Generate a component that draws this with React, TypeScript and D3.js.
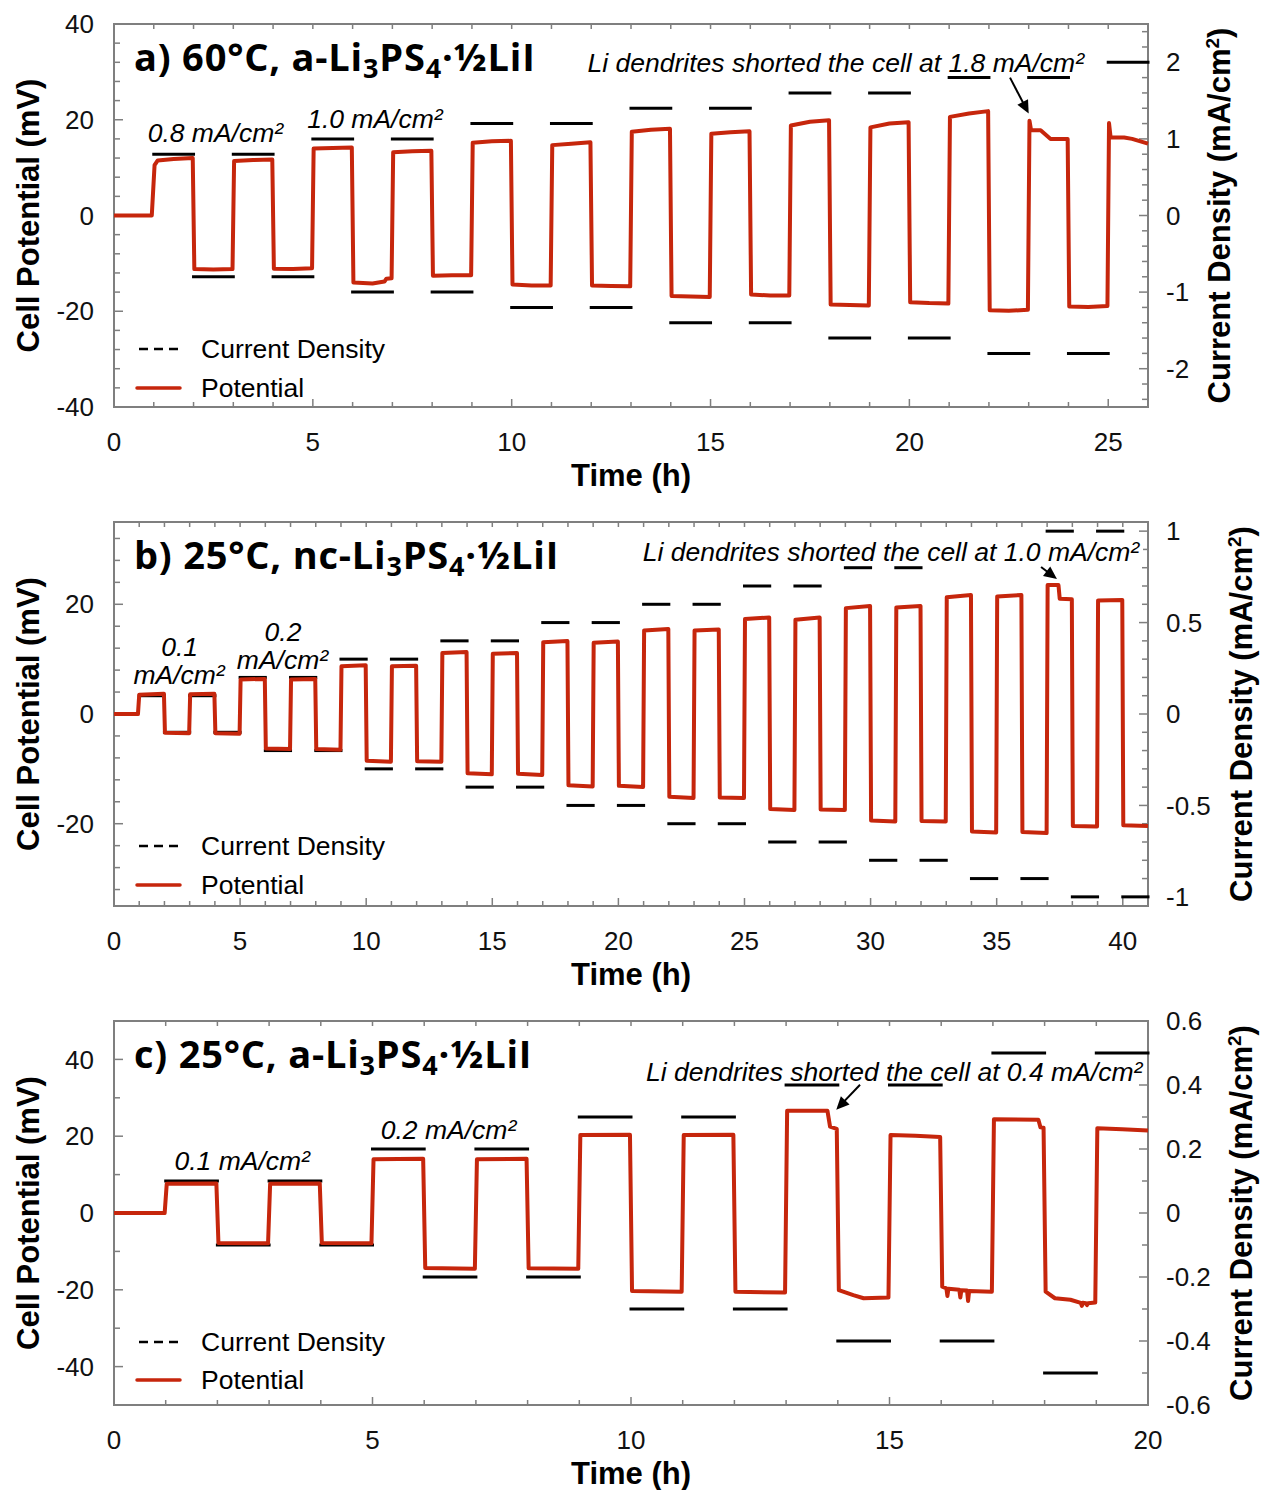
import React from "react";
import * as d3 from "d3";

// ---- data ----
// current density per 1 h step (index = start hour), null = no current
const curA = [null, 0.8, -0.8, 0.8, -0.8, 1.0, -1.0, 1.0, -1.0, 1.2, -1.2, 1.2, -1.2, 1.4, -1.4, 1.4, -1.4, 1.6, -1.6, 1.6, -1.6, 1.8, -1.8, 1.8, -1.8, 2.0];
const curB = [null, 0.1, -0.1, 0.1, -0.1, 0.2, -0.2, 0.2, -0.2, 0.3, -0.3, 0.3, -0.3, 0.4, -0.4, 0.4, -0.4, 0.5, -0.5, 0.5, -0.5, 0.6, -0.6, 0.6, -0.6, 0.7, -0.7, 0.7, -0.7, 0.8, -0.8, 0.8, -0.8, 0.9, -0.9, 0.9, -0.9, 1.0, -1.0, 1.0, -1.0];
const curC = [null, 0.1, -0.1, 0.1, -0.1, 0.2, -0.2, 0.2, -0.2, 0.3, -0.3, 0.3, -0.3, 0.4, -0.4, 0.4, -0.4, 0.5, -0.5, 0.5];

// cell potential [time h, mV]
const potA: [number, number][] = [
  [0, 0], [0.95, 0], [1.02, 10.5], [1.1, 11.5], [1.5, 11.8], [1.98, 12.0],
  [2.02, -11.2], [2.5, -11.3], [2.98, -11.2], [3.02, 11.4], [3.5, 11.6], [3.98, 11.7],
  [4.02, -11.1], [4.5, -11.2], [4.98, -11.0], [5.02, 14.0], [5.5, 14.1], [5.98, 14.2],
  [6.02, -14.0], [6.5, -14.2], [6.8, -13.8], [6.85, -13.2], [6.98, -13.1],
  [7.02, 13.2], [7.5, 13.4], [7.98, 13.5], [8.02, -12.6], [8.5, -12.5], [8.98, -12.5],
  [9.02, 15.2], [9.5, 15.5], [9.98, 15.6], [10.02, -14.4], [10.5, -14.6], [10.98, -14.6],
  [11.02, 14.7], [11.5, 15.0], [11.98, 15.3], [12.02, -14.6], [12.5, -14.7], [12.98, -14.8],
  [13.02, 17.5], [13.5, 17.9], [13.98, 18.1], [14.02, -16.8], [14.5, -16.9], [14.98, -17.0],
  [15.02, 17.1], [15.5, 17.4], [15.98, 17.6], [16.02, -16.5], [16.5, -16.7], [16.98, -16.7],
  [17.02, 18.8], [17.5, 19.6], [17.98, 19.9], [18.02, -18.6], [18.5, -18.7], [18.98, -18.8],
  [19.02, 18.4], [19.5, 19.2], [19.98, 19.5], [20.02, -18.1], [20.5, -18.3], [20.98, -18.4],
  [21.02, 20.6], [21.5, 21.3], [21.98, 21.8], [22.02, -19.8], [22.5, -19.9], [22.98, -19.7],
  [23.02, 19.8], [23.06, 17.8], [23.3, 17.8], [23.55, 16.0], [23.98, 16.0],
  [24.02, -19.0], [24.5, -19.1], [24.98, -18.9],
  [25.02, 19.3], [25.06, 16.3], [25.4, 16.3], [25.6, 16.0], [26, 15.0],
];
const potB: [number, number][] = [
  [0, 0], [0.95, 0], [1.0, 3.5], [1.98, 3.7], [2.02, -3.4], [2.98, -3.5], [3.02, 3.6], [3.98, 3.7], [4.02, -3.5], [4.98, -3.6],
  [5.02, 6.3], [5.98, 6.4], [6.02, -6.3], [6.98, -6.4], [7.02, 6.3], [7.98, 6.4], [8.02, -6.4], [8.98, -6.5],
  [9.02, 8.7], [9.98, 8.9], [10.02, -8.5], [10.98, -8.7], [11.02, 8.7], [11.98, 8.8], [12.02, -8.6], [12.98, -8.7],
  [13.02, 11.1], [13.98, 11.3], [14.02, -10.8], [14.98, -11.0], [15.02, 11.0], [15.98, 11.1], [16.02, -10.9], [16.98, -11.1],
  [17.02, 13.1], [17.98, 13.3], [18.02, -13.0], [18.98, -13.2], [19.02, 13.0], [19.98, 13.2], [20.02, -13.1], [20.98, -13.3],
  [21.02, 15.2], [21.98, 15.5], [22.02, -15.1], [22.98, -15.3], [23.02, 15.2], [23.98, 15.4], [24.02, -15.2], [24.98, -15.3],
  [25.02, 17.3], [25.98, 17.6], [26.02, -17.3], [26.98, -17.5], [27.02, 17.2], [27.98, 17.6], [28.02, -17.4], [28.98, -17.5],
  [29.02, 19.3], [29.98, 19.7], [30.02, -19.4], [30.98, -19.6], [31.02, 19.4], [31.98, 19.7], [32.02, -19.5], [32.98, -19.6],
  [33.02, 21.3], [33.98, 21.7], [34.02, -21.4], [34.98, -21.6], [35.02, 21.4], [35.98, 21.7], [36.02, -21.5], [36.98, -21.7],
  [37.02, 23.5], [37.45, 23.5], [37.5, 21.0], [37.98, 20.9], [38.02, -20.4], [38.98, -20.5],
  [39.02, 20.7], [39.98, 20.8], [40.02, -20.3], [41, -20.4],
];
const potC: [number, number][] = [
  [0, 0], [0.98, 0], [1.02, 7.6], [1.98, 7.7], [2.02, -7.8], [2.98, -7.9], [3.02, 7.6], [3.98, 7.7], [4.02, -7.8], [4.98, -7.9],
  [5.02, 14.0], [5.98, 14.1], [6.02, -14.3], [6.98, -14.5], [7.02, 14.0], [7.98, 14.1], [8.02, -14.4], [8.98, -14.5],
  [9.02, 20.3], [9.98, 20.4], [10.02, -20.3], [10.98, -20.5], [11.02, 20.3], [11.98, 20.4], [12.02, -20.5], [12.98, -20.7],
  [13.02, 26.6], [13.8, 26.6], [13.85, 22.5], [13.98, 21.9],
  [14.02, -20.1], [14.3, -21.4], [14.5, -22.2], [14.98, -22.0],
  [15.02, 20.3], [15.5, 20.1], [15.98, 19.8],
  [16.02, -19.2], [16.1, -19.6], [16.12, -21.6], [16.14, -19.7], [16.35, -20.0], [16.37, -22.0], [16.39, -20.1],
  [16.5, -20.2], [16.52, -22.9], [16.54, -20.3], [16.98, -20.5],
  [17.02, 24.4], [17.88, 24.3], [17.92, 22.3], [17.98, 22.2],
  [18.02, -20.5], [18.2, -22.2], [18.5, -22.6], [18.7, -23.4], [18.72, -24.2], [18.74, -23.4], [18.8, -23.5],
  [18.82, -24.0], [18.84, -23.5], [18.98, -23.3],
  [19.02, 22.1], [19.5, 21.8], [20, 21.5],
];

// tick labels
const timeTicksA = [0, 5, 10, 15, 20, 25];
const timeTicksB = [0, 5, 10, 15, 20, 25, 30, 35, 40];
const timeTicksC = [0, 5, 10, 15, 20];
const mvTicksA = [-40, -20, 0, 20, 40];
const mvTicksB = [-20, 0, 20];
const mvTicksC = [-40, -20, 0, 20, 40];
const cdTicksA = [-2, -1, 0, 1, 2];
const cdTicksB = [-1, -0.5, 0, 0.5, 1];
const cdTicksC = [-0.6, -0.4, -0.2, 0, 0.2, 0.4, 0.6];

const RED = "#c6260c";
const AX = "#7f7f7f";
const SANS = "'Liberation Sans', Arial, sans-serif";
const X0 = 114, X1 = 1148;

type Note = { t: number; mv: number; text: string; box?: boolean };
type Cfg = {
  top: number; bottom: number; tMax: number;
  mvDom: [number, number]; cdDom: [number, number];
  mvMinor: number; cdMinor: number;
  pot: [number, number][]; cur: (number | null)[];
  timeTicks: number[]; mvTicks: number[]; cdTicks: number[];
  title: [string, string, string];
  notes: Note[];
  arrow: [number, number, number, number];
  legend: [number, number];
  rightLabelX: number;
};

const panels: Cfg[] = [
  {
    top: 24, bottom: 407, tMax: 26, mvDom: [-40, 40], cdDom: [-2.5, 2.5], mvMinor: 4, cdMinor: 0.2,
    pot: potA, cur: curA, timeTicks: timeTicksA, mvTicks: mvTicksA, cdTicks: cdTicksA,
    title: ["a) 60°C, a-Li", "PS", "·½LiI"],
    notes: [
      { t: 2.55, mv: 17.3, text: "0.8 mA/cm²" },
      { t: 6.56, mv: 20.3, text: "1.0 mA/cm²" },
      { t: 18.15, mv: 32.0, text: "Li dendrites shorted the cell at 1.8 mA/cm²" },
    ],
    arrow: [22.53, 28.8, 23.0, 21.3],
    legend: [349, 388],
    rightLabelX: 1230,
  },
  {
    top: 522, bottom: 906, tMax: 41, mvDom: [-35, 35], cdDom: [-1.05, 1.05], mvMinor: 4, cdMinor: 0.1,
    pot: potB, cur: curB, timeTicks: timeTicksB, mvTicks: mvTicksB, cdTicks: cdTicksB,
    title: ["b) 25°C, nc-Li", "PS", "·½LiI"],
    notes: [
      { t: 2.6, mv: 12.2, text: "0.1" },
      { t: 2.58, mv: 7.1, text: "mA/cm²" },
      { t: 6.7, mv: 15.0, text: "0.2" },
      { t: 6.68, mv: 9.9, text: "mA/cm²" },
      { t: 30.81, mv: 29.6, text: "Li dendrites shorted the cell at 1.0 mA/cm²", box: true },
    ],
    arrow: [36.76, 26.8, 37.39, 24.6],
    legend: [846, 885],
    rightLabelX: 1252,
  },
  {
    top: 1021, bottom: 1405, tMax: 20, mvDom: [-50, 50], cdDom: [-0.6, 0.6], mvMinor: 10, cdMinor: 0.1,
    pot: potC, cur: curC, timeTicks: timeTicksC, mvTicks: mvTicksC, cdTicks: cdTicksC,
    title: ["c) 25°C, a-Li", "PS", "·½LiI"],
    notes: [
      { t: 2.48, mv: 13.55, text: "0.1 mA/cm²" },
      { t: 6.47, mv: 21.6, text: "0.2 mA/cm²" },
      { t: 15.09, mv: 36.7, text: "Li dendrites shorted the cell at 0.4 mA/cm²" },
    ],
    arrow: [14.43, 33.4, 13.97, 26.9],
    legend: [1342, 1380],
    rightLabelX: 1252,
  },
];

function Panel({ c }: { c: Cfg }) {
  const x = d3.scaleLinear().domain([0, c.tMax]).range([X0, X1]);
  const y = d3.scaleLinear().domain(c.mvDom).range([c.bottom, c.top]);
  const y2 = d3.scaleLinear().domain(c.cdDom).range([c.bottom, c.top]);
  const line = d3.line<[number, number]>().x(d => x(d[0])).y(d => y(d[1]));
  const midY = (c.top + c.bottom) / 2;

  const hours = d3.range(0, c.tMax + 0.001, 1);
  const mvMinor = d3.range(Math.ceil(c.mvDom[0] / c.mvMinor) * c.mvMinor, c.mvDom[1] + 0.001, c.mvMinor);
  const cdMinor = d3.range(Math.ceil(c.cdDom[0] / c.cdMinor - 1e-6) * c.cdMinor, c.cdDom[1] + 1e-6, c.cdMinor);

  // arrow
  const [at, am, bt, bm] = c.arrow;
  const ax = x(at), ay = y(am), bx = x(bt), by = y(bm);
  const len = Math.hypot(bx - ax, by - ay);
  const ux = (bx - ax) / len, uy = (by - ay) / len;
  const hl = 13, hw = 6;
  const head = [
    [bx, by],
    [bx - ux * hl - uy * hw, by - uy * hl + ux * hw],
    [bx - ux * hl + uy * hw, by - uy * hl - ux * hw],
  ].map(p => p.join(",")).join(" ");

  return (
    <g>
      {/* frame */}
      <rect x={X0} y={c.top} width={X1 - X0} height={c.bottom - c.top} fill="none" stroke={AX} strokeWidth={2} />
      {hours.map(h => {
        const major = c.timeTicks.includes(h);
        const l = major ? 8 : 5;
        return (
          <g key={"h" + h} stroke={AX} strokeWidth={1.5}>
            <line x1={x(h)} x2={x(h)} y1={c.bottom} y2={c.bottom - l} />
            <line x1={x(h)} x2={x(h)} y1={c.top} y2={c.top + 5} />
          </g>
        );
      })}
      {mvMinor.map(v => (
        <line key={"m" + v} x1={X0} x2={X0 + (c.mvTicks.includes(v) ? 9 : 6)} y1={y(v)} y2={y(v)} stroke={AX} strokeWidth={1.5} />
      ))}
      {cdMinor.map(v => {
        const major = c.cdTicks.some(t => Math.abs(t - v) < 1e-6);
        return <line key={"c" + v} x1={X1} x2={X1 - (major ? 9 : 6)} y1={y2(v)} y2={y2(v)} stroke={AX} strokeWidth={1.5} />;
      })}

      {/* tick labels */}
      <g fontFamily={SANS} fontSize={26} fill="#111">
        {c.timeTicks.map(t => (
          <text key={"tl" + t} x={x(t)} y={c.bottom + 44} textAnchor="middle">{t}</text>
        ))}
        {c.mvTicks.map(v => (
          <text key={"ml" + v} x={94} y={y(v)} dy="0.35em" textAnchor="end">{v}</text>
        ))}
        {c.cdTicks.map(v => (
          <text key={"cl" + v} x={1166} y={y2(v)} dy="0.35em" textAnchor="start">{v}</text>
        ))}
      </g>

      {/* axis titles */}
      <g fontFamily={SANS} fontSize={31} fontWeight={700} fill="#000">
        <text x={631} y={c.bottom + 79} textAnchor="middle">Time (h)</text>
        <text transform={`translate(39,${midY}) rotate(-90)`} textAnchor="middle">Cell Potential (mV)</text>
        <text transform={`translate(${c.rightLabelX},${midY}) rotate(-90)`} textAnchor="middle">
          Current Density (mA/cm<tspan dy={-11} fontSize={19}>2</tspan><tspan dy={11}>)</tspan>
        </text>
      </g>

      {/* current density steps */}
      {c.cur.map((v, i) =>
        v == null ? null : (
          <line key={"cd" + i} x1={x(i)} x2={x(i + 1)} y1={y2(v)} y2={y2(v)} stroke="#000" strokeWidth={3} strokeLinecap="square" />
        )
      )}

      {/* potential */}
      <path d={line(c.pot) ?? ""} fill="none" stroke={RED} strokeWidth={4} strokeLinejoin="round" />

      {/* title */}
      <text x={134} y={c.top + 47} fontFamily="'Open Sans', Lato, sans-serif" fontWeight={700} fontSize={38} letterSpacing={0.8} fill="#000">
        {c.title[0]}<tspan dy={7} fontSize={27}>3</tspan><tspan dy={-7}>{c.title[1]}</tspan>
        <tspan dy={7} fontSize={27}>4</tspan><tspan dy={-7}>{c.title[2]}</tspan>
      </text>

      {/* notes */}
      <g fontFamily={SANS} fontSize={26.5} fontStyle="italic" fill="#000">
        {c.notes.map((n, i) => (
          <g key={"n" + i}>
            {n.box && <rect x={x(n.t) - 252} y={y(n.mv) - 14} width={504} height={27} fill="#fff" />}
            <text x={x(n.t)} y={y(n.mv)} dy="0.35em" textAnchor="middle">{n.text}</text>
          </g>
        ))}
      </g>

      {/* arrow */}
      <line x1={ax} y1={ay} x2={bx - ux * hl * 0.8} y2={by - uy * hl * 0.8} stroke="#000" strokeWidth={2} />
      <polygon points={head} fill="#000" />

      {/* legend */}
      <line x1={139} x2={178} y1={c.legend[0]} y2={c.legend[0]} stroke="#000" strokeWidth={2.5} strokeDasharray="9 6" />
      <line x1={137} x2={180} y1={c.legend[1]} y2={c.legend[1]} stroke={RED} strokeWidth={3.5} strokeLinecap="round" />
      <g fontFamily={SANS} fontSize={26.5} fill="#000">
        <text x={201} y={c.legend[0]} dy="0.35em">Current Density</text>
        <text x={201} y={c.legend[1]} dy="0.35em">Potential</text>
      </g>
    </g>
  );
}

export default function App() {
  return (
    <>
      <style>{`body{margin:0}`}</style>
      <svg width={1262} height={1490} style={{ display: "block", background: "#fff" }}>
        {panels.map((p, i) => (
          <Panel key={i} c={p} />
        ))}
      </svg>
    </>
  );
}
